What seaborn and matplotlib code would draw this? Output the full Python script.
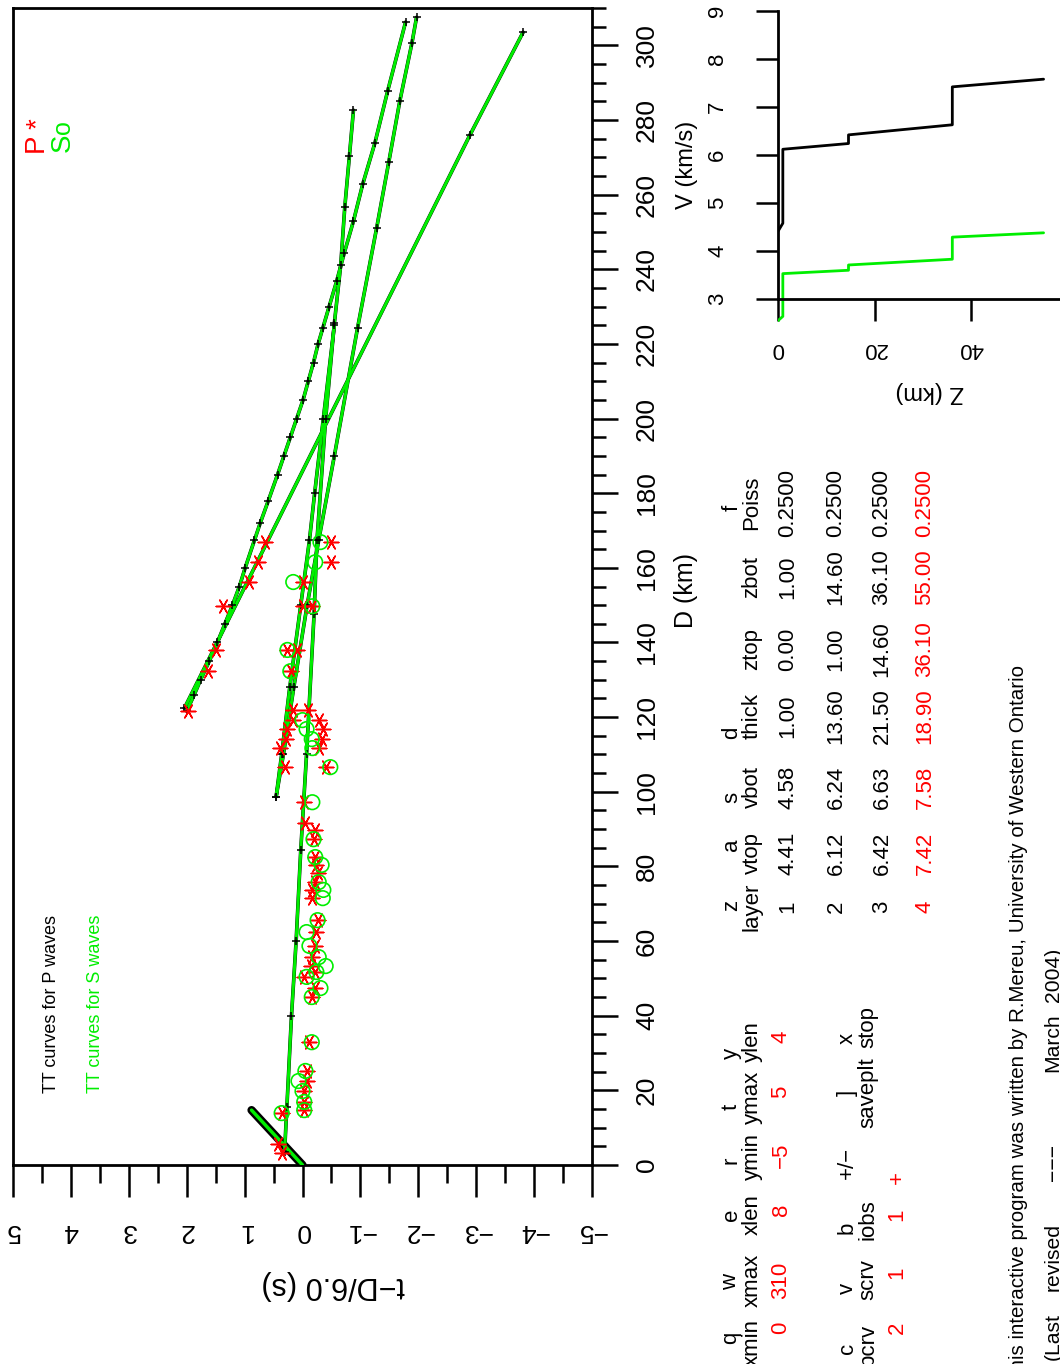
import matplotlib
matplotlib.use("Agg")
import matplotlib.pyplot as plt
import seaborn as sns
import pandas as pd
from matplotlib.ticker import MultipleLocator, FixedLocator

# ---------------- observed picks (D km, reduced time t-D/6.0 s) ----------------
p_obs_D = [166.9, 161.5, 156.2, 166.9, 161.5, 156.2, 149.7, 149.7, 149.7, 138.0, 138.0, 138.0,
           132.3, 132.3, 121.6, 121.9, 121.9, 119.2, 119.2, 116.8, 116.8, 114.1, 114.1, 111.7,
           111.7, 106.6, 106.6, 97.2, 91.6, 89.7, 87.3, 82.5, 80.4, 78.2, 75.8, 73.7, 71.5,
           65.6, 62.4, 58.7, 55.7, 53.3, 51.7, 50.4, 47.4, 45.0, 32.9, 25.2, 22.5, 19.8, 16.9,
           14.7, 13.9, 5.6, 3.2]
p_obs_T = [0.64, 0.76, 0.92, -0.50, -0.50, 0.00, 1.37, 0.00, -0.16, 1.49, 0.26, 0.09,
           1.63, 0.19, 1.97, 0.16, -0.09, 0.17, -0.28, 0.26, -0.36, 0.28, -0.33, 0.38,
           -0.28, 0.31, -0.40, -0.02, -0.05, -0.22, -0.19, -0.21, -0.24, -0.26, -0.22, -0.17, -0.17,
           -0.26, -0.24, -0.21, -0.17, -0.14, -0.22, -0.03, -0.22, -0.17, -0.12, -0.07, -0.07, -0.02, -0.02,
           -0.03, 0.36, 0.43, 0.35]
s_obs_D = [166.9, 161.5, 156.2, 149.7, 138.0, 132.3, 119.2, 116.8, 114.1, 111.7, 106.6, 97.2,
           87.3, 82.5, 80.4, 75.8, 73.7, 71.5, 65.6, 62.4, 58.7, 55.7, 53.3, 51.7, 50.4, 47.4,
           45.0, 32.9, 25.2, 22.5, 19.8, 16.9, 14.7, 13.9]
s_obs_T = [-0.31, -0.22, 0.16, -0.17, 0.26, 0.21, 0.00, -0.07, -0.16, -0.17, -0.48, -0.17,
           -0.19, -0.22, -0.33, -0.28, -0.36, -0.35, -0.26, -0.07, -0.12, -0.28, -0.40, -0.24, -0.07, -0.31,
           -0.16, -0.16, -0.05, 0.07, 0.00, -0.03, -0.03, 0.36]

# ---------------- computed travel-time curves ----------------
direct_D = [0.0, 14.7]
direct_T = [0.0, 0.88]
layer2_D = [3.4, 15.5, 40, 60, 84.4, 110, 147.6, 167.4, 200, 225.5, 241.1, 256.6, 270.3, 282.6]
layer2_T = [0.31, 0.27, 0.19, 0.11, 0.03, -0.07, -0.20, -0.25, -0.40, -0.55, -0.66, -0.73, -0.81, -0.88]
layer3_D = [98.7, 110, 128, 150, 167.4, 190, 224.2, 251, 268.7, 285, 300.6, 307.5]
layer3_T = [0.455, 0.33, 0.15, -0.08, -0.28, -0.55, -0.95, -1.28, -1.49, -1.68, -1.89, -1.97]
refl3_D = [98.7, 110, 128, 150, 167.4, 180, 200, 225]
refl3_T = [0.455, 0.36, 0.22, 0.03, -0.12, -0.21, -0.36, -0.55]
pmp_D = [121.6, 126, 130, 135, 140, 145, 150, 155, 160, 167.4, 172, 178, 185, 190, 195, 200, 205,
         210, 215, 220, 224.2, 230, 236.8, 244.3, 252.9, 262.8, 273.8, 287.7, 306.2]
pmp_T = [2.00, 1.87, 1.76, 1.61, 1.47, 1.34, 1.21, 1.09, 0.99, 0.83, 0.73, 0.59, 0.43, 0.32, 0.21,
         0.10, -0.01, -0.10, -0.19, -0.27, -0.35, -0.46, -0.59, -0.72, -0.88, -1.04, -1.25, -1.47, -1.78]
pn_D = [122.4, 275.9, 303.5]
pn_T = [2.04, -2.89, -3.81]

# ---------------- model table ----------------
layers = ["1", "2", "3", "4"]
vtop = [4.41, 6.12, 6.42, 7.42]
vbot = [4.58, 6.24, 6.63, 7.58]
thick = [1.00, 13.60, 21.50, 18.90]
ztop = [0.00, 1.00, 14.60, 36.10]
zbot = [1.00, 14.60, 36.10, 55.00]
poiss = [0.25, 0.25, 0.25, 0.25]
vs_top = [2.55, 3.53, 3.71, 4.29]
vs_bot = [2.64, 3.60, 3.83, 4.38]

# control parameters
ctl1_keys = ["q", "w", "e", "r", "t", "y"]
ctl1_names = ["xmin", "xmax", "xlen", "ymin", "ymax", "ylen"]
ctl1_vals = ["0", "310", "8", "\u22125", "5", "4"]
ctl2_keys = ["c", "v", "b", "+/\u2212", "]", "x"]
ctl2_names = ["pcrv", "scrv", "iobs", "", "saveplt", "stop"]
ctl2_vals = ["2", "1", "1", "+", "", ""]

footer_words2 = ["(Last", "revised", "\u2212\u2212\u2212", "March", "2004)"]

RED = "#ff0000"
GREEN = "#00ee00"

sns.set_theme(style="ticks")
plt.rcParams["font.family"] = ["Liberation Sans", "DejaVu Sans"]
plt.rcParams["axes.edgecolor"] = "black"
plt.rcParams["xtick.color"] = "black"
plt.rcParams["ytick.color"] = "black"

W, H = 1060, 1364
fig = plt.figure(figsize=(W / 100, H / 100), dpi=100)
fig.patch.set_facecolor("white")


def box(x0, y0, x1, y1):
    return [x0 / W, 1 - y1 / H, (x1 - x0) / W, (y1 - y0) / H]


def ftext(x, y, s, rot=90, color="black", size=16, ha="center", va="center"):
    fig.text(x / W, 1 - y / H, s, rotation=rot, rotation_mode="anchor",
             ha=ha, va=va, color=color, fontsize=size)


# ================= main travel-time axes =================
ax = fig.add_axes(box(13, 8, 592, 1165))
ax.set_facecolor("white")

curves = [
    (layer2_D, layer2_T), (layer3_D, layer3_T), (refl3_D, refl3_T),
    (pmp_D, pmp_T), (pn_D, pn_T),
]
# direct wave: dense black P curve under green S curve
sns.lineplot(x=direct_T, y=direct_D, sort=False, estimator=None, color="black", lw=6,
             ax=ax, zorder=2)
sns.lineplot(x=direct_T, y=direct_D, sort=False, estimator=None, color=GREEN, lw=2.5,
             ax=ax, zorder=3)
for dd, tt in curves:
    sns.lineplot(x=tt, y=dd, sort=False, estimator=None, color="black", lw=2.6, ax=ax, zorder=2)
    sns.lineplot(x=tt, y=dd, sort=False, estimator=None, color=GREEN, lw=2.2, ax=ax, zorder=3)
    ax.plot(tt, dd, ls="none", marker="+", ms=6, mew=1.1, color="black", zorder=4)

sns.scatterplot(x=p_obs_T, y=p_obs_D, marker=(6, 2, 90), s=110, color=RED, edgecolor=RED,
                linewidth=1.1, ax=ax, zorder=5)
sns.scatterplot(x=s_obs_T, y=s_obs_D, marker="o", s=110, facecolor="none", edgecolor=GREEN,
                linewidth=1.2, ax=ax, zorder=6)

ax.set_xlim(5, -5)
ax.set_ylim(0, 310)
ax.set_xlabel("")
ax.set_ylabel("")
for sp in ax.spines.values():
    sp.set_visible(True)
    sp.set_linewidth(2)
    sp.set_color("black")

ax.xaxis.set_major_locator(MultipleLocator(1))
ax.xaxis.set_minor_locator(MultipleLocator(0.5))
ax.yaxis.set_major_locator(MultipleLocator(20))
ax.yaxis.set_minor_locator(MultipleLocator(5))
ax.yaxis.tick_right()
ax.tick_params(axis="x", which="major", direction="out", length=23, width=1.8,
               labelsize=19, labelrotation=180, pad=16, bottom=True, top=False)
ax.tick_params(axis="x", which="minor", direction="out", length=13, width=1.8,
               bottom=True, top=False)
ax.tick_params(axis="y", which="major", direction="out", length=19, width=1.8,
               labelsize=19, labelrotation=90, pad=12, left=False, right=True,
               labelleft=False, labelright=True)
ax.tick_params(axis="y", which="minor", direction="out", length=10, width=1.8,
               left=False, right=True)
for lab in ax.get_yticklabels():
    lab.set_va("center")
    lab.set_ha("left")

ftext(333, 1285, "t\u2212D/6.0 (s)", rot=180, size=22)
ftext(686, 590, "D (km)", rot=90, size=18)

# legend texts in the plot
ftext(52, 1093, "TT curves for P waves", rot=90, size=13, ha="left")
ftext(95, 1093, "TT curves for S waves", rot=90, size=13, ha="left", color=GREEN)
ftext(36, 143, "P", rot=90, size=20, color=RED)
ftext(38, 124, "*", rot=90, size=20, color=RED)
ftext(63, 143, "S", rot=90, size=20, color=GREEN)
ftext(63, 127, "o", rot=90, size=18, color=GREEN)

# ================= velocity-depth inset =================
ax2 = fig.add_axes(box(778, 11, 1060, 325))
ax2.set_facecolor("none")
prof_Z, prof_Vp, prof_Vs = [], [], []
for zt, zb, a, b, sa, sb in zip(ztop, zbot, vtop, vbot, vs_top, vs_bot):
    prof_Z += [zt, zb]
    prof_Vp += [a, b]
    prof_Vs += [sa, sb]
prof = pd.DataFrame({"Z": prof_Z, "Vp": prof_Vp, "Vs": prof_Vs})
sns.lineplot(data=prof, x="Z", y="Vp", sort=False, estimator=None, color="black", lw=2, ax=ax2)
sns.lineplot(data=prof, x="Z", y="Vs", sort=False, estimator=None, color=GREEN, lw=2, ax=ax2)
ax2.set_xlim(0, 58.4)
ax2.set_ylim(2.46, 9)
ax2.set_xlabel("")
ax2.set_ylabel("")
ax2.spines["top"].set_visible(False)
ax2.spines["right"].set_visible(False)
ax2.spines["left"].set_bounds(3, 9)
ax2.spines["bottom"].set_position(("data", 3))
for s in ("left", "bottom"):
    ax2.spines[s].set_linewidth(2)
    ax2.spines[s].set_color("black")
ax2.xaxis.set_major_locator(FixedLocator([0, 20, 40]))
ax2.yaxis.set_major_locator(FixedLocator([3, 4, 5, 6, 7, 8, 9]))
ax2.tick_params(axis="x", direction="out", length=16, width=1.8, labelsize=16,
                labelrotation=180, pad=12)
ax2.tick_params(axis="y", direction="out", length=16, width=1.8, labelsize=16,
                labelrotation=90, pad=20)
for lab in ax2.get_yticklabels():
    lab.set_va("center")
ftext(687, 165, "V (km/s)", rot=90, size=17)
ftext(930, 392, "Z (km)", rot=180, size=17)

# ================= model table =================
col_y = [907, 853, 787, 716, 649, 577, 503]
hdr_keys = ["z", "a", "s", "d", "", "", "f"]
hdr_key_y = [905, 845, 797, 733, 649, 577, 508]
hdr_names = ["layer", "vtop", "vbot", "thick", "ztop", "zbot", "Poiss"]
for k, ky in zip(hdr_keys, hdr_key_y):
    if k:
        ftext(732, ky, k, size=16)
for n, cy in zip(hdr_names, col_y):
    ftext(752, cy, n, size=16)
row_x = [788, 836, 882, 925]
for i in range(4):
    col = RED if i == 3 else "black"
    vals = [layers[i], f"{vtop[i]:.2f}", f"{vbot[i]:.2f}", f"{thick[i]:.2f}",
            f"{ztop[i]:.2f}", f"{zbot[i]:.2f}", f"{poiss[i]:.4f}"]
    for v, cy in zip(vals, col_y):
        ftext(row_x[i], cy, v, size=16, color=col)

# control parameters
c1_key_y = [1338, 1282, 1215, 1160, 1107, 1053]
c1_name_y = [1342, 1280, 1215, 1157, 1097, 1042]
c1_val_y = [1328, 1280, 1210, 1155, 1092, 1037]
for k, y in zip(ctl1_keys, c1_key_y):
    ftext(731, y, k, size=16)
for n, y in zip(ctl1_names, c1_name_y):
    ftext(752, y, n, size=16)
for v, y in zip(ctl1_vals, c1_val_y):
    ftext(781, y, v, size=16, color=RED)

c2_key_y = [1348, 1288, 1228, 1163, 1093, 1038]
c2_name_y = [1345, 1280, 1220, 1163, 1093, 1027]
c2_val_y = [1328, 1273, 1215, 1177, 1093, 1030]
for k, y in zip(ctl2_keys, c2_key_y):
    ftext(847, y, k, size=16)
for n, y in zip(ctl2_names, c2_name_y):
    if n:
        ftext(868, y, n, size=16)
for v, y in zip(ctl2_vals, c2_val_y):
    if v:
        ftext(897, y, v, size=16, color=RED)

# footer
ftext(1019, 665, "This interactive program was written by R.Mereu, University of Western Ontario",
      rot=90, size=14.8, ha="right")
for w, wy in zip(footer_words2, [1337, 1257, 1162, 1043, 975]):
    ftext(1053, wy, w, rot=90, size=15.2)

fig.savefig("out.png", dpi=100, facecolor="white")
